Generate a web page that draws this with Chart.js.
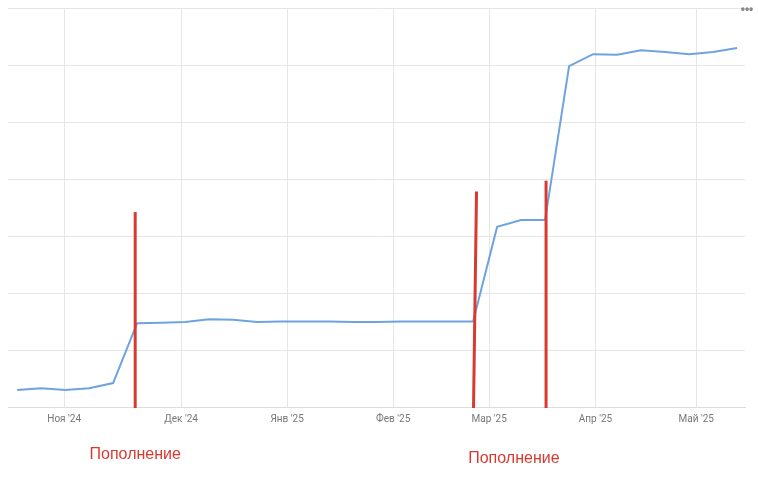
<!DOCTYPE html><html><head><meta charset="utf-8">
<script src="https://cdn.jsdelivr.net/npm/chart.js@4/dist/chart.umd.min.js"></script>
<style>html,body{margin:0;background:#fff}#w{width:758px;height:477px;position:relative}</style></head><body>
<div id="w"><canvas id="c"></canvas></div>
<script>
const values=[0.30,0.33,0.30,0.33,0.42,1.47,1.48,1.49,1.54,1.53,1.49,1.50,1.50,1.50,1.49,1.49,1.50,1.50,1.50,1.50,3.16,3.28,3.28,5.98,6.19,6.18,6.26,6.23,6.19,6.23,6.30];
const monthLabels=['Ноя \'24','Дек \'24','Янв \'25','Фев \'25','Мар \'25','Апр \'25','Май \'25'];
const monthPos=[1.96,6.83,11.25,15.67,19.67,24.1,28.3];
const markerPos=[4.92,19.08,22.04];
const markerTop=[3.42,3.78,3.97];
const noteLabel='Пополнение';
const notePos=[4.92,20.7];
const pts=values.map((v,i)=>({x:i,y:v}));
const deco={id:'deco',afterDatasetsDraw(ch){const {ctx,scales:{x,y}}=ch;ctx.save();ctx.strokeStyle='#d83a2f';ctx.lineWidth=3;
markerPos.forEach((p,i)=>{ctx.beginPath();const dx=i==1?3:0;ctx.moveTo(x.getPixelForValue(p)-dx/2,y.getPixelForValue(0)+1);ctx.lineTo(x.getPixelForValue(p)+dx/2,y.getPixelForValue(markerTop[i]));ctx.stroke();});
ctx.fillStyle='#d83a2f';ctx.font='16px "Liberation Sans", Arial';ctx.textAlign='center';
ctx.fillText(noteLabel,x.getPixelForValue(notePos[0]),459);ctx.fillText(noteLabel,x.getPixelForValue(notePos[1]),463);
ctx.fillStyle='#888';ctx.font='bold 12px sans-serif';ctx.fillText('•••',747,13);ctx.restore();}};
new Chart(document.getElementById('c'),{type:'line',data:{datasets:[{data:pts,borderColor:'#6fa3e0',borderWidth:2,pointRadius:0,tension:0}]},
options:{responsive:true,maintainAspectRatio:false,animation:false,layout:{padding:{left:8,right:13,top:8,bottom:46}},
plugins:{legend:{display:false},tooltip:{enabled:false}},
scales:{x:{type:'linear',min:-0.38,max:30.33,grid:{color:'#e6e6e6',drawTicks:false},border:{display:true,color:'#ddd'},
afterBuildTicks:a=>{a.ticks=monthPos.map(v=>({value:v}));},
ticks:{autoSkip:false,maxRotation:0,padding:6,color:'#777',font:{size:10,family:'Roboto'},callback:(v,i)=>monthLabels[i]}},
y:{min:0,max:7,grid:{color:'#e6e6e6',drawTicks:false},border:{display:false},ticks:{display:false,stepSize:1}}}},plugins:[deco]});
</script></body></html>
